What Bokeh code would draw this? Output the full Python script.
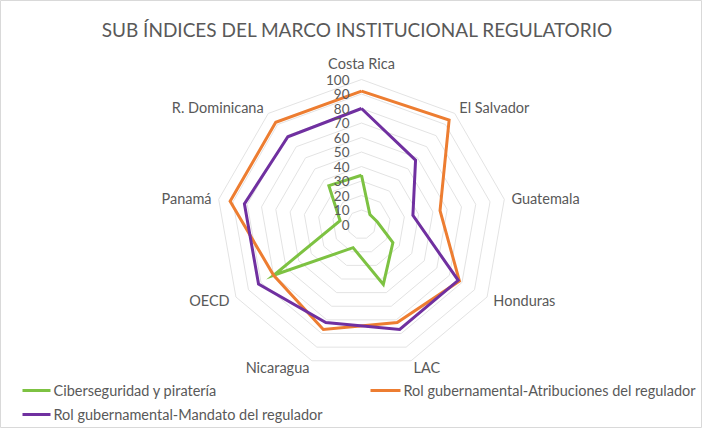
import math
from bokeh.plotting import figure
from bokeh.models import Range1d
from bokeh.core.properties import value
from bokeh.embed import file_html
from bokeh.resources import INLINE

title_text = "SUB ÍNDICES DEL MARCO INSTITUCIONAL REGULATORIO"
categories = ["Costa Rica", "El Salvador", "Guatemala", "Honduras", "LAC",
              "Nicaragua", "OECD", "Panamá", "R. Dominicana"]
series_names = ["Ciberseguridad y piratería",
                "Rol gubernamental-Atribuciones del regulador",
                "Rol gubernamental-Mandato del regulador"]
ciber = [34, 9, 11, 25, 44, 17, 70, 15, 35]
atribuciones = [92, 94, 55, 78, 72, 77, 70, 92, 92]
mandato = [80, 58, 36, 77, 77, 72, 82, 82, 79]
ticks = [0, 10, 20, 30, 40, 50, 60, 70, 80, 90, 100]
colors = ["#7DC242", "#ED7D31", "#7030A0"]

FONT = "Lato"
GRAY = "#595959"
W, H = 702, 428
S = 1.45          # px per unit
CX, CY = 361, 224  # center in figure px (from top-left)

p = figure(width=W, height=H, output_backend="svg", toolbar_location=None,
           x_range=Range1d(-CX / S, (W - CX) / S),
           y_range=Range1d(-(H - CY) / S, CY / S),
           min_border=0, outline_line_color="#d9d9d9")
p.axis.visible = False
p.grid.visible = False
p.background_fill_color = "white"

n = len(categories)
angles = [2 * math.pi * i / n for i in range(n)]


def pt(r, a):
    return r * math.sin(a), r * math.cos(a)


# grid rings
ring_xs, ring_ys = [], []
for t in ticks[1:]:
    xs = [pt(t, a)[0] for a in angles] + [pt(t, angles[0])[0]]
    ys = [pt(t, a)[1] for a in angles] + [pt(t, angles[0])[1]]
    ring_xs.append(xs)
    ring_ys.append(ys)
p.multi_line(ring_xs, ring_ys, line_color="#e3e3e3", line_width=1)

# series
for vals, col in zip([ciber, atribuciones, mandato], colors):
    xs = [pt(v, a)[0] for v, a in zip(vals, angles)]
    ys = [pt(v, a)[1] for v, a in zip(vals, angles)]
    xs.append(xs[0])
    ys.append(ys[0])
    p.line(xs, ys, line_color=col, line_width=3, line_join="miter")

# tick labels
p.text(x=[-12 / S] * len(ticks), y=ticks, text=[str(t) for t in ticks],
       text_align="right", text_baseline="middle", text_font=value(FONT),
       text_font_size="13.5px", text_color=GRAY)

# category labels
R = 105
for c, a in zip(categories, angles):
    x, y = pt(R, a)
    sa, ca = math.sin(a), math.cos(a)
    if abs(sa) < 0.1:
        align = "center"
    elif sa > 0:
        align = "left"
    else:
        align = "right"
    base = "bottom" if ca > 0.95 else "middle"
    p.text(x=[x], y=[y], text=[c], text_align=align, text_baseline=base,
           text_font=value(FONT), text_font_size="14.5px", text_color=GRAY)

# title
p.text(x=[-4 / S], y=[(CY + 8 - 37) / S], text=[title_text], text_align="center",
       text_baseline="middle", text_font=value(FONT), text_font_size="19px",
       text_color=GRAY)


def X(px):
    return (px - 8 - CX) / S


def Y(py):
    return (CY + 8 - py) / S


# legend
leg = [(30, 58, 398), (378, 408, 398), (30, 58, 422)]
for name, col, (x0, x1, yy) in zip(series_names, colors, leg):
    p.line([X(x0), X(x1)], [Y(yy), Y(yy)], line_color=col, line_width=3)
    p.text(x=[X(x1 + 3)], y=[Y(yy)], text=[name], text_align="left",
           text_baseline="middle", text_font=value(FONT), text_font_size="14.5px",
           text_color=GRAY)

open("out.html", "w").write(file_html(p, INLINE))
